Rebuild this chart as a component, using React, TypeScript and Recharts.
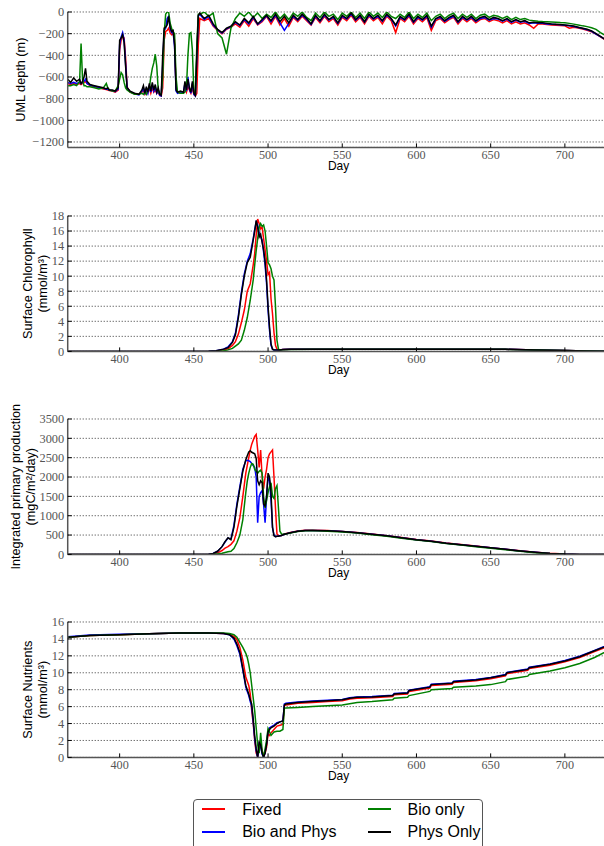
import React from "react";
import { LineChart, Line, XAxis, YAxis, CartesianGrid, Legend } from "recharts";

// the four model runs, in plotting order (black ends up on top)
const SERIES = [
  { key: "fixed", name: "Fixed", color: "#ff0000" },
  { key: "bioPhys", name: "Bio and Phys", color: "#0000ff" },
  { key: "bio", name: "Bio only", color: "#008000" },
  { key: "phys", name: "Phys Only", color: "#000000" },
];

const DAY_TICKS = [400, 450, 500, 550, 600, 650, 700];
const UML_TICKS = [-1200, -1000, -800, -600, -400, -200, 0];
const CHL_TICKS = [0, 2, 4, 6, 8, 10, 12, 14, 16, 18];
const PP_TICKS = [0, 500, 1000, 1500, 2000, 2500, 3000, 3500];
const NUT_TICKS = [0, 2, 4, 6, 8, 10, 12, 14, 16];

// ---- UML depth (m)
const umlDays = [
  365, 367, 369, 371, 373, 374, 375, 376, 377, 378, 380, 383, 386, 389, 391, 392, 393, 395, 397, 399,
  400, 401, 402, 403, 404, 405, 407, 410, 413, 415,
  416, 417, 418, 419, 420, 421, 422, 423, 424, 425, 426, 427,
  428, 429, 430, 431, 432, 433, 434, 435, 436, 437, 438, 439,
  441, 443, 444, 445, 446, 447, 448, 449, 450, 451, 452, 453,
  454, 457, 460, 463, 466, 469, 472, 475, 478, 481,
  484, 487, 490, 493, 496, 499, 502, 505, 508, 511,
  514, 517, 520, 523, 526, 529, 532, 535, 538, 541,
  544, 547, 550, 553, 556, 559, 562, 565, 568, 571,
  574, 577, 580, 583, 586, 589, 592, 595, 598, 601,
  604, 607, 610, 613, 616, 619, 622, 625, 628, 631,
  634, 637, 640, 643, 646, 649, 652, 655, 658, 661,
  664, 667, 670, 673, 676, 679, 682, 685, 688, 691,
  694, 697, 700, 703, 706, 709, 712, 715, 718, 721,
  724, 727,
];
const umlFixed = [
  -660, -670, -660, -670, -660, -670, -660, -650, -640, -660, -680, -690, -700, -710, -715, -720, -725, -730, -740, -720,
  -350, -260, -220, -240, -420, -690, -740, -755, -760, -740,
  -720, -760, -730, -750, -700, -750, -700, -740, -720, -750, -740, -770,
  -775, -700, -260, -180, -170, -150, -190, -210, -200, -260, -700, -740,
  -750, -740, -700, -740, -690, -720, -750, -700, -760, -775, -750, -300,
  -60, -80, -60, -130, -170, -200, -160, -140, -110, -140,
  -80, -130, -60, -120, -90, -40, -110, -40, -120, -60,
  -130, -50, -90, -40, -80, -120, -50, -100, -40, -90,
  -60, -120, -50, -80, -30, -90, -50, -110, -40, -80,
  -50, -110, -40, -80, -190, -60, -90, -40, -110, -60,
  -90, -50, -170, -80, -60, -100, -70, -50, -110, -60,
  -90, -60, -100, -70, -60, -90, -70, -80, -100, -80,
  -110, -90, -110, -100, -120, -150, -110, -110, -115, -120,
  -122, -125, -128, -150, -140, -148, -158, -168, -182, -205,
  -230, -255,
];
const umlBioPhys = [
  -650, -660, -650, -660, -650, -660, -650, -640, -620, -660, -675, -685, -695, -705, -712, -710, -722, -725, -735, -710,
  -300, -230, -190, -260, -480, -700, -735, -755, -765, -730,
  -700, -760, -710, -750, -680, -740, -670, -730, -690, -750, -720, -770,
  -775, -500, -170, -150, -60, -40, -150, -190, -180, -320, -730, -750,
  -740, -745, -660, -730, -600, -710, -750, -660, -760, -775, -420, -40,
  -20, -70, -40, -120, -165, -195, -155, -135, -95, -125,
  -70, -110, -50, -115, -80, -35, -90, -30, -100, -170,
  -105, -40, -75, -30, -70, -115, -40, -85, -30, -75,
  -50, -105, -40, -65, -20, -75, -40, -95, -30, -65,
  -40, -85, -30, -65, -130, -50, -75, -30, -95, -50,
  -75, -40, -140, -65, -50, -85, -60, -40, -95, -50,
  -75, -50, -85, -60, -50, -75, -60, -65, -85, -65,
  -95, -75, -95, -85, -105, -100, -105, -105, -110, -113,
  -116, -118, -123, -128, -133, -143, -153, -163, -178, -203,
  -228, -252,
];
const umlBio = [
  -680, -680, -670, -680, -640, -290, -620, -680, -680, -690, -690, -700, -710, -700, -660, -700, -720, -730, -730, -680,
  -620, -560, -580, -650, -700, -720, -740, -760, -760, -750,
  -760, -740, -760, -720, -700, -600, -520, -470, -390, -500, -720, -760,
  -760, -600, -200, -20, 0, 0, -100, -150, -180, -200, -600, -740,
  -750, -750, -740, -700, -400, -200, -190, -350, -740, -760, -300, -20,
  -20, 0, -40, -10, -200, -240, -390, -150, -60, -10,
  -40, 0, -50, -10, -60, -20, -50, 0, -60, -20,
  -70, -10, -40, 0, -50, -80, -10, -50, 0, -40,
  -20, -70, -10, -40, 0, -50, -10, -60, 0, -40,
  -10, -50, 0, -40, -60, -20, -50, 0, -60, -20,
  -50, -10, -80, -40, -20, -60, -30, -10, -60, -20,
  -50, -20, -60, -30, -20, -50, -30, -40, -60, -40,
  -70, -50, -70, -60, -75, -80, -85, -88, -90, -92,
  -95, -98, -100, -105, -112, -120, -128, -135, -145, -160,
  -190, -215,
];
const umlPhys = [
  -620, -650, -610, -640, -620, -660, -640, -600, -520, -640, -670, -680, -690, -700, -710, -700, -720, -720, -730, -700,
  -260, -240, -210, -280, -500, -700, -730, -750, -760, -720,
  -680, -750, -690, -740, -660, -730, -650, -720, -670, -740, -700, -760,
  -770, -400, -150, -140, -120, -40, -140, -180, -170, -300, -720, -740,
  -730, -740, -640, -720, -620, -700, -740, -640, -750, -770, -400, -30,
  -10, -60, -30, -110, -160, -190, -150, -130, -90, -120,
  -60, -100, -40, -110, -70, -30, -80, -20, -90, -40,
  -100, -30, -70, -20, -60, -110, -30, -80, -20, -70,
  -40, -100, -30, -60, -10, -70, -30, -90, -20, -60,
  -30, -80, -20, -60, -120, -40, -70, -20, -90, -40,
  -70, -30, -130, -60, -40, -80, -50, -30, -90, -40,
  -70, -40, -80, -50, -40, -70, -50, -60, -80, -60,
  -90, -70, -90, -80, -100, -95, -100, -100, -105, -110,
  -112, -115, -120, -125, -130, -140, -150, -160, -175, -200,
  -225, -250,
];

// ---- Surface chlorophyll (mmol/m3)
const chlDays = [
  365, 400, 440, 460, 465, 470, 473, 476, 478, 480, 482, 484, 486, 488, 490,
  491, 492, 493, 494, 495, 496, 497, 498, 499, 500, 501, 502, 503, 504, 505, 506, 507, 508,
  510, 515, 530, 560, 600, 640, 660, 680, 700, 715, 730,
];
const chlFixed = [
  0, 0, 0, 0.01, 0.05, 0.2, 0.35, 0.8, 1.3, 2.3, 3.8, 5.5, 8, 9, 11.5,
  13, 15.5, 17.6, 17, 16.3, 16.5, 15, 13.5, 12, 10.2, 10.5, 7, 5, 2.5, 0.8, 0.3, 0.2, 0.2,
  0.25, 0.28, 0.3, 0.3, 0.3, 0.3, 0.28, 0.2, 0.12, 0.06, 0.02,
];
const chlBioPhys = [
  0, 0, 0, 0.02, 0.1, 0.3, 0.6, 1.3, 2.4, 4.8, 7.8, 10.3, 12, 13, 15,
  16.2, 17.2, 16.8, 15.8, 15.2, 14.8, 13.2, 11.5, 9, 5.5, 2.8, 0.8, 0.3, 0.2, 0.2, 0.2, 0.2, 0.2,
  0.25, 0.28, 0.3, 0.3, 0.3, 0.3, 0.28, 0.2, 0.12, 0.06, 0.02,
];
const chlBio = [
  0, 0, 0, 0, 0.03, 0.1, 0.2, 0.4, 0.7, 1.0, 1.5, 2.8, 4.5, 6.8, 9.5,
  11.5, 13.4, 15, 16.5, 17, 16.6, 16.8, 16, 14, 11.8, 11.5, 11, 10, 9.5, 6, 1.5, 0.3, 0.2,
  0.22, 0.25, 0.28, 0.3, 0.3, 0.3, 0.27, 0.2, 0.12, 0.06, 0.02,
];
const chlPhys = [
  0, 0, 0, 0.02, 0.1, 0.3, 0.5, 1.2, 2.2, 4.5, 7.5, 10, 11.8, 12.5, 14.8,
  16, 17.4, 16.5, 15.2, 15.6, 14.5, 13.5, 12, 9.5, 6, 3.2, 1.0, 0.3, 0.2, 0.2, 0.2, 0.2, 0.2,
  0.25, 0.28, 0.3, 0.3, 0.3, 0.3, 0.28, 0.2, 0.12, 0.06, 0.02,
];

// ---- Integrated primary production (mgC/m2/day)
const ppDays = [
  365, 400, 450, 460, 463, 466, 469, 471, 473, 475, 477, 479, 481, 483, 485,
  486, 487, 488, 489, 490, 491, 492, 493, 494, 495, 496, 497, 498, 499, 500,
  501, 502, 503, 504, 505, 506, 507, 508, 509,
  511, 515, 520, 525, 530, 540, 550, 560, 570, 580, 590, 600, 610, 620, 630,
  640, 650, 660, 670, 680, 690, 700, 710, 730,
];
const ppFixed = [
  0, 0, 0, 2, 10, 40, 100, 160, 200, 260, 350, 600, 950, 1500, 2100,
  2300, 2500, 2700, 2850, 2950, 3050, 3100, 2700, 2250, 2700, 2000, 1700, 2000, 2200, 2500,
  2600, 2650, 2700, 2000, 1200, 530, 480, 480, 490,
  525, 565, 605, 625, 625, 615, 595, 565, 525, 485, 435, 385, 345, 295, 255,
  215, 175, 135, 95, 58, 27, 9, 0, 0,
];
const ppBioPhys = [
  0, 0, 0, 5, 25, 80, 200, 320, 420, 400, 750, 1300, 1750, 2200, 2420,
  2430, 2420, 2400, 2350, 2300, 2250, 2000, 820, 1500, 1600, 1650, 1300, 820, 1500, 2000,
  1900, 1400, 700, 500, 460, 470, 470, 480, 490,
  520, 560, 600, 620, 620, 610, 590, 560, 520, 480, 430, 380, 340, 290, 250,
  210, 170, 130, 90, 55, 25, 8, 0, 0,
];
const ppBio = [
  0, 0, 0, 0, 5, 15, 30, 50, 70, 80, 150, 300, 500, 900, 1600,
  1900, 2100, 2250, 2350, 2330, 2200, 2150, 2100, 2150, 2180, 2100, 1500, 1200, 1400, 1600,
  1750, 1850, 1500, 1450, 1700, 1780, 1200, 600, 530,
  520, 550, 590, 610, 615, 600, 580, 550, 510, 470, 420, 370, 330, 280, 240,
  200, 160, 120, 80, 45, 20, 5, 0, 0,
];
const ppPhys = [
  0, 0, 0, 5, 25, 80, 200, 330, 430, 380, 700, 1250, 1700, 2150, 2450,
  2550, 2650, 2680, 2640, 2620, 2600, 2480, 1900, 1800, 1900, 1850, 1300, 1250, 1500, 2100,
  2000, 1600, 700, 480, 460, 470, 470, 480, 490,
  520, 560, 600, 620, 620, 610, 590, 560, 520, 480, 430, 380, 340, 290, 250,
  210, 170, 130, 90, 55, 25, 8, 0, 0,
];

// ---- Surface nutrients (mmol/m3)
const nutDays = [
  365, 380, 400, 420, 440, 460, 470, 474, 477, 479, 481, 483, 485,
  486, 487, 488, 489, 490, 491, 492, 493, 494, 495, 496, 497, 498, 499, 500, 501, 502,
  504, 506, 508, 510, 511, 512, 520, 530, 540, 550, 555, 560, 570, 584, 585,
  594, 595, 609, 610, 624, 625, 640, 650, 660, 661, 675, 676, 690, 700, 710, 720, 730,
];
const nutFixed = [
  14.2, 14.4, 14.5, 14.6, 14.7, 14.7, 14.65, 14.55, 14.3, 13.9, 13.0, 11.5, 9.5,
  9, 8.5, 7.5, 5.5, 4.0, 2.0, 0.5, 0.1, 1.0, 1.6, 0.8, 0.2, 0.5, 1.2, 2.8, 2.6, 2.9,
  3.3, 3.7, 3.8, 3.9, 6.1, 6.2, 6.4, 6.5, 6.6, 6.7, 6.9, 7.0, 7.05, 7.2, 7.4,
  7.5, 7.8, 8.2, 8.5, 8.65, 8.85, 9.05, 9.3, 9.65, 9.9, 10.3, 10.5, 10.9, 11.3, 11.8, 12.5, 13.2,
];
const nutBioPhys = [
  14.25, 14.45, 14.55, 14.62, 14.7, 14.7, 14.65, 14.5, 14.0, 13.2, 12.2, 10.3, 8.3,
  7.8, 7.3, 6.6, 6.0, 4.2, 2.2, 0.8, 0, 1.6, 1.3, 0.4, 0, 0.6, 1.7, 3.2, 3.5, 3.6,
  3.8, 4.1, 4.2, 4.3, 6.3, 6.4, 6.55, 6.65, 6.75, 6.85, 7.05, 7.15, 7.2, 7.35, 7.55,
  7.65, 7.95, 8.35, 8.65, 8.8, 9.0, 9.2, 9.45, 9.8, 10.05, 10.45, 10.65, 11.05, 11.45, 11.95, 12.65, 13.35,
];
const nutBio = [
  14.2, 14.4, 14.5, 14.6, 14.7, 14.7, 14.7, 14.65, 14.5, 14.2, 13.6, 13.0, 12.3,
  11.8, 11, 10, 8.5, 7.0, 5.5, 3.5, 1.5, 0.5, 2.9, 0.8, 0, 1.0, 2.0, 3.4, 3.0, 2.6,
  3.0, 3.1, 3.1, 3.3, 5.8, 5.85, 5.9, 6.0, 6.1, 6.2, 6.35, 6.5, 6.6, 6.8, 7.0,
  7.1, 7.3, 7.8, 8.0, 8.15, 8.3, 8.45, 8.6, 8.95, 9.2, 9.6, 9.8, 10.2, 10.6, 11.1, 11.8, 12.7,
];
const nutPhys = [
  14.2, 14.4, 14.5, 14.6, 14.7, 14.7, 14.65, 14.5, 14.1, 13.4, 12.4, 10.5, 8.5,
  8, 7.5, 6.8, 6.3, 4.5, 2.5, 1.0, 0, 1.8, 1.5, 0.5, 0, 0.5, 1.5, 3.0, 3.3, 3.5,
  3.7, 4.0, 4.2, 4.3, 6.2, 6.3, 6.5, 6.6, 6.7, 6.8, 7.0, 7.1, 7.15, 7.3, 7.5,
  7.6, 7.9, 8.3, 8.6, 8.75, 8.95, 9.15, 9.4, 9.75, 10.0, 10.4, 10.6, 11.0, 11.4, 11.9, 12.6, 13.3,
];

function toRows(days: number[], fixed: number[], bioPhys: number[], bio: number[], phys: number[]) {
  return days.map((day, i) => ({ day, fixed: fixed[i], bioPhys: bioPhys[i], bio: bio[i], phys: phys[i] }));
}

// layout (px)
const CHART_W = 640;
const Y_AXIS_W = 67.7;
const PLOT_W = 541.7;
const MARGIN_TOP = 30; // room for the long rotated y label
const PLOT_H = 135.4;
const X_AXIS_H = 40;
const PANEL_STEP = 203.25;

const TICK_FONT = '"Liberation Serif", "DejaVu Serif", serif';
const LABEL_FONT = '"Liberation Sans", Arial, sans-serif';

const minusFmt = (v: number) => (v < 0 ? "\u2212" + Math.abs(v) : String(v));
const plainFmt = (v: number) => String(v);

// ticks point into the plot like matplotlib's
function BottomTick(props: any) {
  const { x, y, payload } = props;
  return (
    <g>
      <line x1={x} x2={x} y1={y} y2={y - 4} stroke="#000" strokeWidth={1} />
      <text x={x} y={y + 11.3} textAnchor="middle" fontFamily={TICK_FONT} fontSize={12.2} fill="#555">
        {payload.value}
      </text>
    </g>
  );
}

function TopTick(props: any) {
  const { x, y } = props;
  return <line x1={x} x2={x} y1={y} y2={y + 4} stroke="#000" strokeWidth={1} />;
}

function LeftTick(props: any) {
  const { x, y, payload, fmt } = props;
  return (
    <g>
      <line x1={x} x2={x + 4} y1={y} y2={y} stroke="#000" strokeWidth={1} />
      <text x={x - 3.5} y={y} dy="0.35em" textAnchor="end" fontFamily={TICK_FONT} fontSize={12.4} fill="#555">
        {fmt(payload.value)}
      </text>
    </g>
  );
}

function YLabel(props: any) {
  const { viewBox, lines, xs } = props;
  const cy = viewBox && viewBox.height ? viewBox.y + viewBox.height / 2 : MARGIN_TOP + PLOT_H / 2;
  return (
    <g>
      {lines.map((t: string, i: number) => (
        <text
          key={t}
          x={xs[i]}
          y={cy}
          transform={`rotate(-90 ${xs[i]} ${cy})`}
          textAnchor="middle"
          dominantBaseline="central"
          fontFamily={LABEL_FONT}
          fontSize={12.7}
          fill="#000"
        >
          {t}
        </text>
      ))}
    </g>
  );
}

function LegendBox({ payload }: any) {
  const items = SERIES.map((s) => {
    const p = (payload || []).find((e: any) => e.dataKey === s.key);
    return { name: p ? p.value : s.name, color: p ? p.color : s.color };
  });
  return (
    <div
      style={{
        position: "relative",
        width: 290.6,
        height: 54,
        boxSizing: "border-box",
        border: "1.5px solid #555",
        borderRadius: 4,
        background: "#fff",
        fontFamily: LABEL_FONT,
        fontSize: 16,
        color: "#000",
      }}
    >
      {items.map((it, i) => {
        const col = Math.floor(i / 2);
        const row = i % 2;
        const cy = row === 0 ? 9.8 : 32.5;
        const lineX = col === 0 ? 8.8 : 174.8;
        const textX = col === 0 ? 48.5 : 213.8;
        return (
          <React.Fragment key={it.name}>
            <div style={{ position: "absolute", left: lineX, top: cy - 1, width: 23, height: 2, background: it.color }} />
            <div style={{ position: "absolute", left: textX, top: cy - 10, lineHeight: "20px", whiteSpace: "nowrap" }}>
              {it.name}
            </div>
          </React.Fragment>
        );
      })}
    </div>
  );
}

interface PanelProps {
  top: number;
  rows: any[];
  yDomain: [number, number];
  yTicks: number[];
  fmt: (v: number) => string;
  lines: string[];
  xs: number[];
  withLegend?: boolean;
}

function Panel({ top, rows, yDomain, yTicks, fmt, lines, xs, withLegend }: PanelProps) {
  return (
    <div style={{ position: "absolute", left: 0, top }}>
      <LineChart
        width={CHART_W}
        height={MARGIN_TOP + PLOT_H + X_AXIS_H}
        data={rows}
        margin={{ top: MARGIN_TOP, right: CHART_W - Y_AXIS_W - PLOT_W, bottom: 0, left: 0 }}
      >
        <CartesianGrid vertical={false} stroke="#000" strokeWidth={0.8} strokeDasharray="1 2" />
        <XAxis
          xAxisId="top"
          orientation="top"
          type="number"
          dataKey="day"
          domain={[365, 730]}
          ticks={DAY_TICKS}
          interval={0}
          height={0}
          tickSize={0}
          tickMargin={0}
          tickLine={false}
          axisLine={{ stroke: "#000", strokeWidth: 1.2 }}
          tick={<TopTick />}
          allowDataOverflow
        />
        <XAxis
          type="number"
          dataKey="day"
          domain={[365, 730]}
          ticks={DAY_TICKS}
          interval={0}
          height={X_AXIS_H}
          tickSize={0}
          tickMargin={0}
          tickLine={false}
          axisLine={{ stroke: "#555", strokeWidth: 1.5 }}
          tick={<BottomTick />}
          allowDataOverflow
          label={{ value: "Day", position: "insideBottom", offset: 17.7, fontFamily: LABEL_FONT, fontSize: 12, fill: "#000" }}
        />
        <YAxis
          type="number"
          domain={yDomain}
          ticks={yTicks}
          interval={0}
          width={Y_AXIS_W}
          tickSize={0}
          tickMargin={0}
          tickLine={false}
          axisLine={{ stroke: "#555", strokeWidth: 1.5 }}
          tick={<LeftTick fmt={fmt} />}
          allowDataOverflow
          label={<YLabel lines={lines} xs={xs} />}
        />
        {SERIES.map((s) => (
          <Line
            key={s.key}
            type="linear"
            dataKey={s.key}
            name={s.name}
            stroke={s.color}
            strokeWidth={1.5}
            dot={false}
            isAnimationActive={false}
          />
        ))}
        {withLegend && (
          <Legend
            layout="vertical"
            align="center"
            verticalAlign="middle"
            wrapperStyle={{ position: "absolute", left: 192.7, top: 798.7 - top, width: 290.6, height: 54 }}
            content={(p: any) => <LegendBox payload={p.payload} />}
          />
        )}
      </LineChart>
    </div>
  );
}

export default function App() {
  const panelTop = (i: number) => 12.3 + i * PANEL_STEP - MARGIN_TOP;
  return (
    <div style={{ position: "absolute", left: 0, top: 0, width: 604, height: 846, overflow: "hidden", background: "#fff" }}>
      <Panel
        top={panelTop(0)}
        rows={toRows(umlDays, umlFixed, umlBioPhys, umlBio, umlPhys)}
        yDomain={[-1250, 0]}
        yTicks={UML_TICKS}
        fmt={minusFmt}
        lines={["UML depth (m)"]}
        xs={[20.7]}
      />
      <Panel
        top={panelTop(1)}
        rows={toRows(chlDays, chlFixed, chlBioPhys, chlBio, chlPhys)}
        yDomain={[0, 18]}
        yTicks={CHL_TICKS}
        fmt={plainFmt}
        lines={["Surface Chlorophyll", "(mmol/m\u00b3)"]}
        xs={[27.8, 42.5]}
      />
      <Panel
        top={panelTop(2)}
        rows={toRows(ppDays, ppFixed, ppBioPhys, ppBio, ppPhys)}
        yDomain={[0, 3500]}
        yTicks={PP_TICKS}
        fmt={plainFmt}
        lines={["Integrated primary production", "(mgC/m\u00b2/day)"]}
        xs={[16.2, 31]}
      />
      <Panel
        top={panelTop(3)}
        rows={toRows(nutDays, nutFixed, nutBioPhys, nutBio, nutPhys)}
        yDomain={[0, 16]}
        yTicks={NUT_TICKS}
        fmt={plainFmt}
        lines={["Surface Nutrients", "(mmol/m\u00b3)"]}
        xs={[27.8, 42.5]}
        withLegend
      />
    </div>
  );
}
